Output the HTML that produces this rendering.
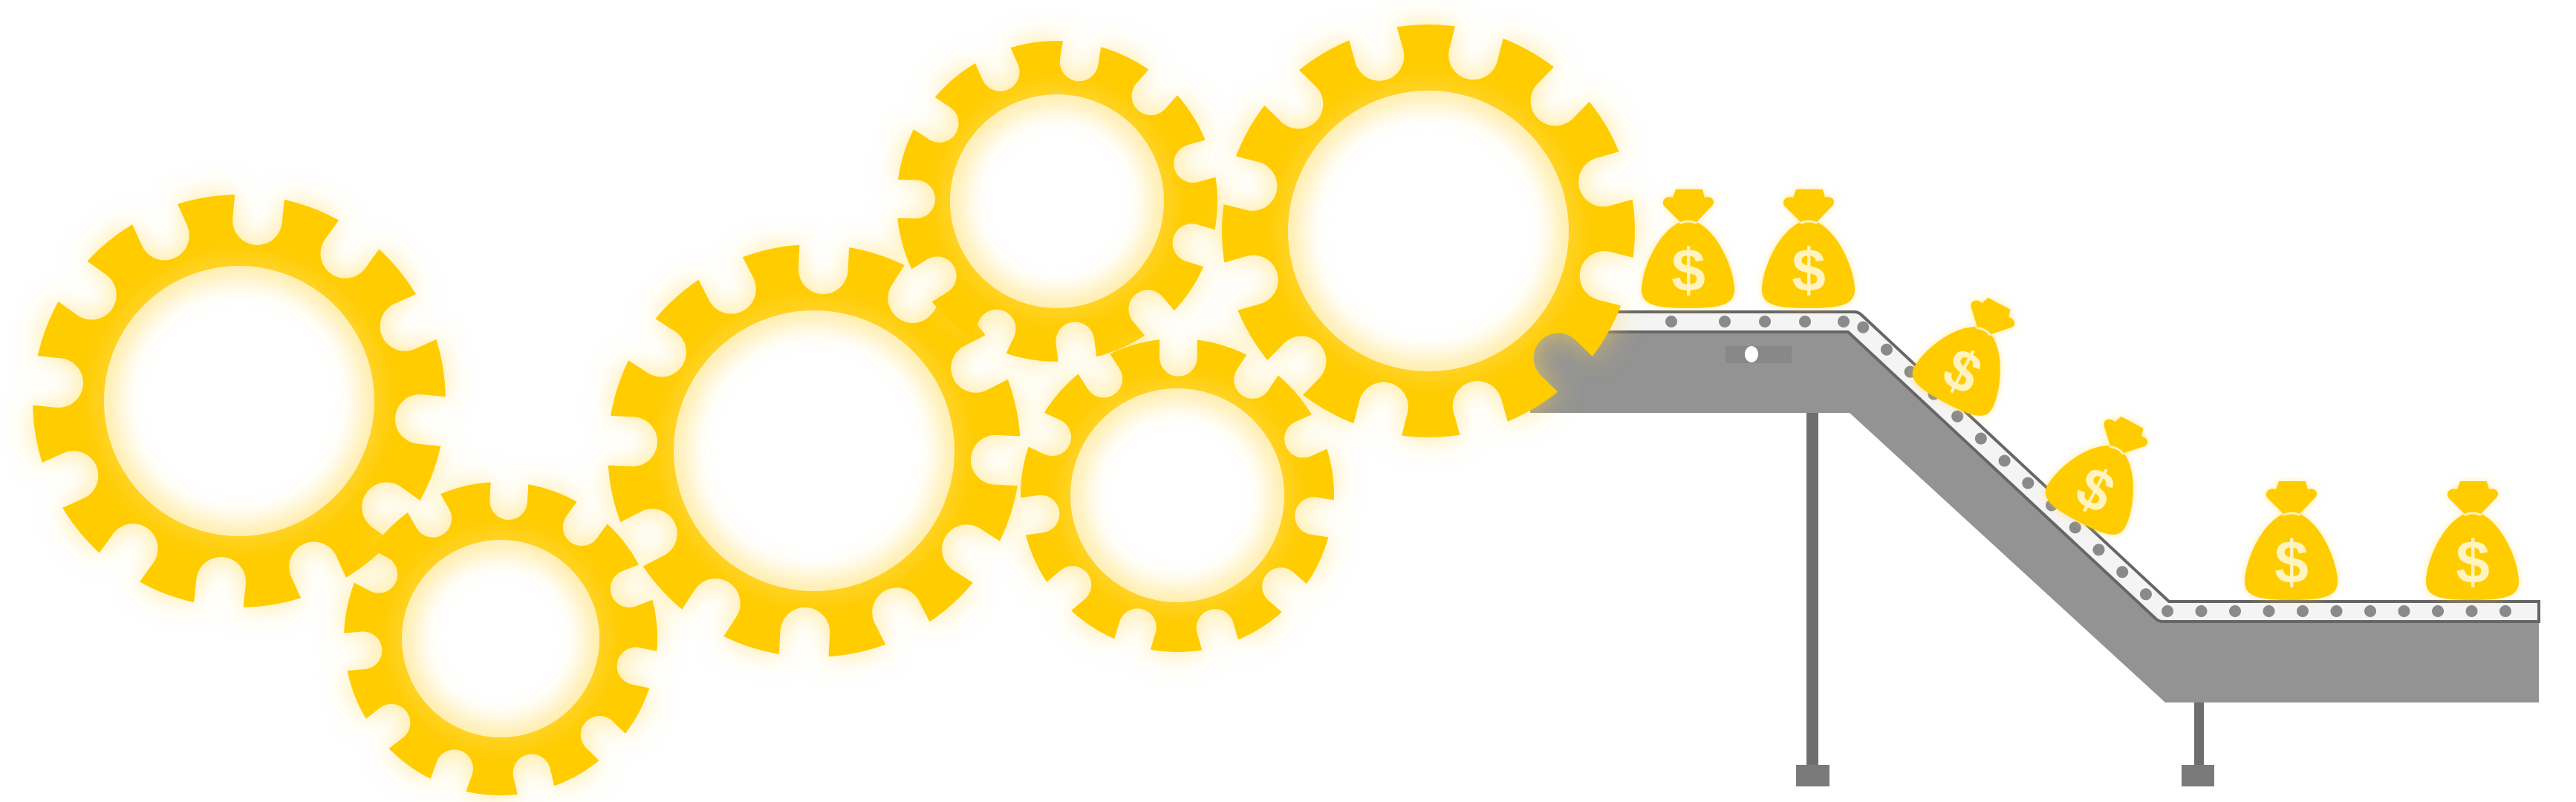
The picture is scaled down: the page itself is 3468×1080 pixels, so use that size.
<!DOCTYPE html>
<html><head><meta charset="utf-8">
<style>
html,body{margin:0;padding:0;background:#fff;}
svg{display:block;}
</style></head>
<body>
<svg id="s" xmlns="http://www.w3.org/2000/svg" width="3468" height="1080" viewBox="0 0 3468 1080">
<defs>
<filter id="glow" x="-30%" y="-30%" width="160%" height="160%">
<feDropShadow dx="0" dy="0" stdDeviation="18" flood-color="#ffd84a" flood-opacity="0.6"/>
</filter>
<filter id="iglow" x="-30%" y="-30%" width="160%" height="160%">
<feGaussianBlur stdDeviation="16"/>
</filter>
<filter id="bglow" x="-30%" y="-30%" width="160%" height="160%">
<feDropShadow dx="0" dy="0" stdDeviation="5" flood-color="#ffd84a" flood-opacity="0.5"/>
</filter>
<g id="bag">
<path d="M55,47 L30,22 C26,14 34,8 42,11 L46,0 L82,0 L85,11 C93,8 101,15 95,22 L71,47 Z" fill="#ffcc00"/>
<path d="M50,45 C20,60 0,110 0,135 C0,156 20,160 62,160 C105,160 125,156 125,135 C125,110 105,60 76,45 Z" fill="#ffcc00"/>
<path d="M52,46 C58,42 68,42 74,46" stroke="#fff3c0" stroke-width="3" fill="none"/>
<text x="63" y="137" font-family="Liberation Sans, sans-serif" font-weight="bold" font-size="82" fill="#fff3c0" text-anchor="middle">$</text>
</g>
</defs>

<polygon points="2060,447 2500,447 2915,835 3418,835 3418,946 2915,946 2490,556 2060,556" fill="#939393"/>
<rect x="2432" y="556" width="16" height="476" fill="#6e6e6e"/>
<rect x="2418" y="1030" width="45" height="29" fill="#7a7a7a"/>
<rect x="2954" y="946" width="13" height="86" fill="#6e6e6e"/>
<rect x="2937" y="1030" width="44" height="29" fill="#7a7a7a"/>
<rect x="2323" y="466" width="89" height="23" fill="#888"/>
<ellipse cx="2358" cy="477" rx="9" ry="11" fill="#fff"/>
<path d="M2159,420 L2496,420 A14,14 0 0 1 2506,424 L2920,810 L3418,810 L3418,837 L2912,837 A14,14 0 0 1 2902,833 L2488,447 L2159,447 Z" fill="#f4f4f4" stroke="#666" stroke-width="4"/>
<g id="dots" fill="#8a8a8a"></g>

<g id="gears"></g>

<g filter="url(#bglow)">
<use href="#bag" transform="translate(2210,255)"/>
<use href="#bag" transform="translate(2372,255)"/>
<use href="#bag" transform="translate(2593,400) rotate(28 62 80) scale(0.95)"/>
<use href="#bag" transform="translate(2772,560) rotate(28 62 80) scale(0.95)"/>
<use href="#bag" transform="translate(3022,648)"/>
<use href="#bag" transform="translate(3266,648)"/>
</g>
</svg>
<script>
var NS="http://www.w3.org/2000/svg";
var gears=[[322,540,278,182,12,0.1],[674,860,211,133,11,0.2],[1096,607,278,189,12,0.05],[1423,271,216,144,11,0.3],[1585,667,211,144,11,0.15],[1923,311,278,189,12,0.25]];
var G=document.getElementById("gears"),defs=document.querySelector("defs");
gears.forEach(function(g,i){
 var cx=g[0],cy=g[1],R=g[2],r=g[3],n=g[4],off=g[5];
 var m=document.createElementNS(NS,"mask");m.setAttribute("id","m"+i);
 var h='<rect x="0" y="0" width="3468" height="1080" fill="#fff"/>';
 var br=R*0.12, depth=R*0.24, hw=R*0.12;
 for(var k=0;k<n;k++){var a=(k/n)*2*Math.PI+off;var c=Math.cos(a),s=Math.sin(a);
  var d0=R-depth+br;
  var x=cx+c*d0,y=cy+s*d0;
  h+='<circle cx="'+x+'" cy="'+y+'" r="'+br+'" fill="#000"/>';
  var d1=R+30;
  var p=[[d0,-br],[d1,-hw],[d1,hw],[d0,br]].map(function(q){return (cx+c*q[0]-s*q[1])+','+(cy+s*q[0]+c*q[1]);}).join(' ');
  h+='<polygon points="'+p+'" fill="#000"/>';}
 h+='<circle cx="'+cx+'" cy="'+cy+'" r="'+r+'" fill="#000"/>';
 m.innerHTML=h;defs.appendChild(m);
 var gg=document.createElementNS(NS,"g");
 gg.innerHTML='<g filter="url(#glow)"><circle cx="'+cx+'" cy="'+cy+'" r="'+R+'" fill="#ffcc00" mask="url(#m'+i+')"/></g>'+
 '<circle cx="'+cx+'" cy="'+cy+'" r="'+(r-6)+'" fill="none" stroke="#ffe27a" stroke-opacity="0.6" stroke-width="22" filter="url(#iglow)"/>'+
 '<text x="'+cx+'" y="'+(cy+10)+'" font-family="Liberation Sans, sans-serif" font-weight="bold" font-size="40" fill="#fff" text-anchor="middle">Gear '+(i+1)+'</text>';
 G.appendChild(gg);
});
var D=document.getElementById("dots"),dh="";
[2250,2322,2376,2430,2482].forEach(function(x){dh+='<circle cx="'+x+'" cy="433" r="8"/>';});
for(var t=0.02;t<0.98;t+=0.077){var x=2500+(2912-2500)*t,y=433+(822-433)*t;dh+='<circle cx="'+x+'" cy="'+y+'" r="8"/>';}
for(var x=2918;x<3418;x+=45.5){dh+='<circle cx="'+x+'" cy="823" r="8"/>';}
D.innerHTML=dh;
</script>
</body></html>
